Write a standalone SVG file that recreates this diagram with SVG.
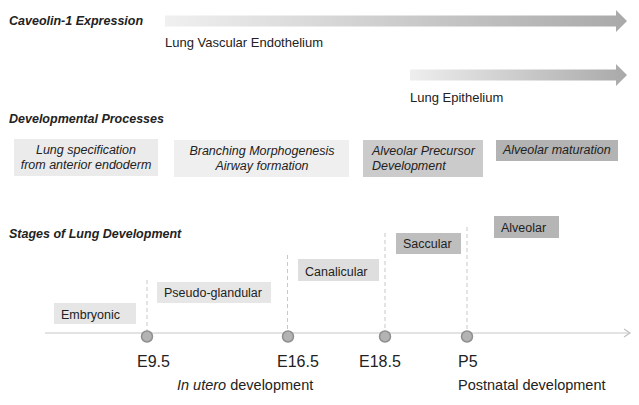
<svg xmlns="http://www.w3.org/2000/svg" width="639" height="405" viewBox="0 0 639 405">
<defs>
<linearGradient id="g1" x1="0" y1="0" x2="1" y2="0">
<stop offset="0" stop-color="#f0f0f0"/>
<stop offset="1" stop-color="#a9a9a9"/>
</linearGradient>
<linearGradient id="g2" x1="0" y1="0" x2="1" y2="0">
<stop offset="0" stop-color="#eeeeee"/>
<stop offset="1" stop-color="#a9a9a9"/>
</linearGradient>
</defs>
<style>
text{font-family:"Liberation Sans",Arial,sans-serif;fill:#222}
.hdr{font-size:12.5px;font-weight:bold;font-style:italic}
.lbl{font-size:13px}
.proc{font-size:12.5px;font-style:italic}
.stg{font-size:12.5px}
.tick{font-size:16px}
.dev{font-size:14.5px}
.dash{stroke:#c8c8c8;stroke-width:1;stroke-dasharray:4 3;fill:none}
.dot{fill:#b3b3b3;stroke:#8f8f8f;stroke-width:1.5}
</style>
<rect width="639" height="405" fill="#ffffff"/>

<g id="caveolin">
<text class="hdr" x="9" y="25">Caveolin-1 Expression</text>
<path d="M165,15.5 H616 V10 L627,21 L616,32 V26.5 H165 Z" fill="url(#g1)"/>
<text class="lbl" x="165" y="47">Lung Vascular Endothelium</text>
<path d="M410,69.5 H616 V64 L627,75 L616,86 V80.5 H410 Z" fill="url(#g2)"/>
<text class="lbl" x="410" y="102">Lung Epithelium</text>
</g>

<g id="processes">
<text class="hdr" x="9" y="123">Developmental Processes</text>
<g id="proc-spec">
<rect x="14" y="139" width="144" height="37" fill="#ebebeb"/>
<text class="proc" x="86" y="154" text-anchor="middle">Lung specification</text>
<text class="proc" x="86" y="169" text-anchor="middle">from anterior endoderm</text>
</g>
<g id="proc-branch">
<rect x="174" y="140" width="175" height="37" fill="#efefef"/>
<text class="proc" x="262" y="155" text-anchor="middle">Branching Morphogenesis</text>
<text class="proc" x="262" y="170" text-anchor="middle">Airway formation</text>
</g>
<g id="proc-precursor">
<rect x="363" y="140" width="120" height="37" fill="#cbcbcb"/>
<text class="proc" x="372" y="155">Alveolar Precursor</text>
<text class="proc" x="372" y="170">Development</text>
</g>
<g id="proc-maturation">
<rect x="496" y="140" width="122" height="21" fill="#b3b3b3"/>
<text class="proc" x="503" y="154">Alveolar maturation</text>
</g>
</g>

<text class="hdr" x="9" y="238">Stages of Lung Development</text>

<g id="connectors">
<line class="dash" x1="147" y1="280" x2="147" y2="333"/>
<line class="dash" x1="287.5" y1="255" x2="287.5" y2="333"/>
<line class="dash" x1="385" y1="233" x2="385" y2="333"/>
<line class="dash" x1="467" y1="227" x2="467" y2="333"/>
<line x1="45" y1="333" x2="630" y2="333" stroke="#c8c8c8" stroke-width="1.2"/>
<path d="M624,329 L630,333 L624,337" fill="none" stroke="#c0c0c0" stroke-width="1.2"/>
</g>

<g id="stage-embryonic">
<rect x="54" y="303" width="82" height="21" fill="#e6e6e6"/>
<text class="stg" x="61" y="319">Embryonic</text>
</g>
<g id="stage-pseudo">
<rect x="157" y="282" width="114" height="21" fill="#e6e6e6"/>
<text class="stg" x="164" y="297">Pseudo-glandular</text>
</g>
<g id="stage-canalicular">
<rect x="298" y="259" width="81" height="22" fill="#dedede"/>
<text class="stg" x="305" y="276">Canalicular</text>
</g>
<g id="stage-saccular">
<rect x="396" y="233" width="65" height="21" fill="#bebebe"/>
<text class="stg" x="403" y="248">Saccular</text>
</g>
<g id="stage-alveolar">
<rect x="494" y="216" width="65" height="22" fill="#b5b5b5"/>
<text class="stg" x="501" y="232">Alveolar</text>
</g>

<g id="tick-e95">
<circle class="dot" cx="147" cy="336.5" r="5.5"/>
<text class="tick" x="137" y="367">E9.5</text>
</g>
<g id="tick-e165">
<circle class="dot" cx="288" cy="336.5" r="5.5"/>
<text class="tick" x="277" y="367">E16.5</text>
</g>
<g id="tick-e185">
<circle class="dot" cx="385" cy="336.5" r="5.5"/>
<text class="tick" x="359" y="367">E18.5</text>
</g>
<g id="tick-p5">
<circle class="dot" cx="467" cy="336.5" r="5.5"/>
<text class="tick" x="458" y="367">P5</text>
</g>

<text class="dev" x="177" y="390"><tspan font-style="italic">In utero</tspan> development</text>
<text class="dev" x="458" y="390">Postnatal development</text>
</svg>
